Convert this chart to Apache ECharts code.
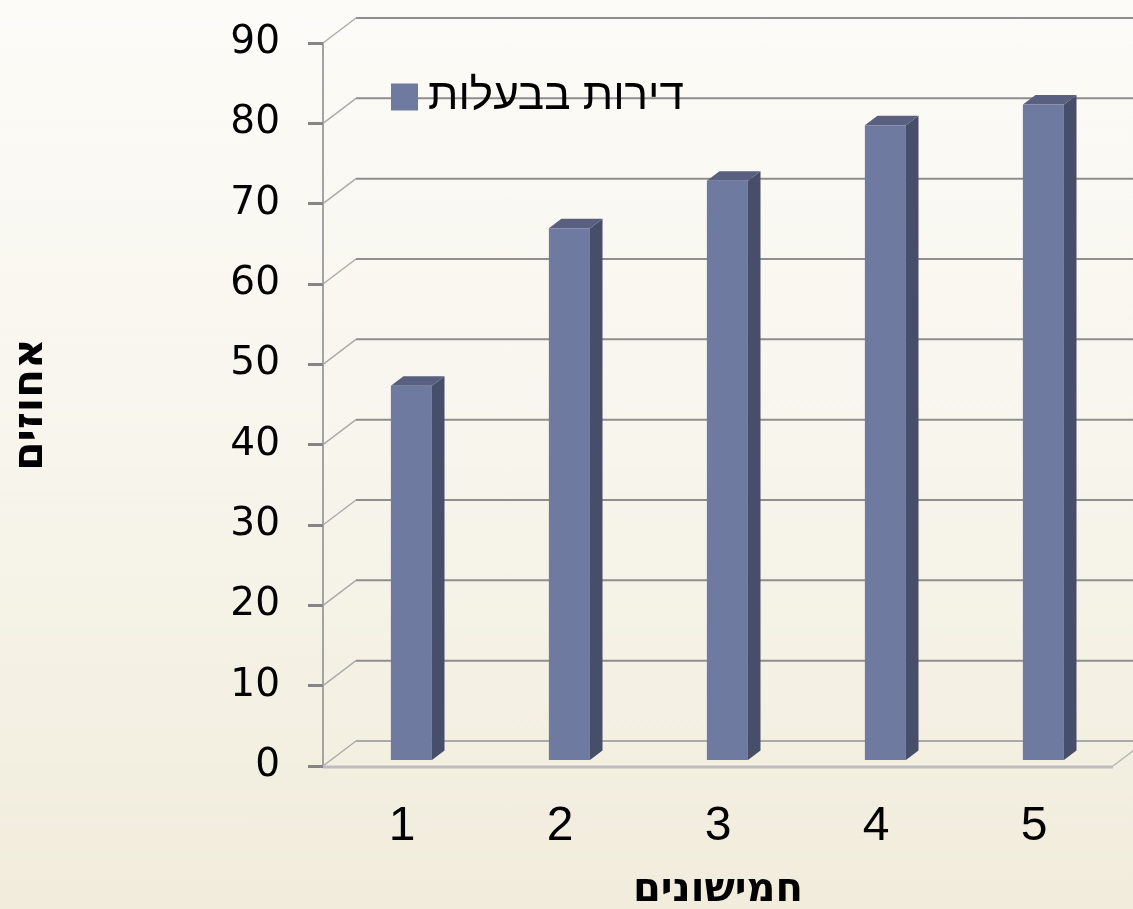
<!DOCTYPE html>
<html><head><meta charset="utf-8">
<script src="https://cdn.jsdelivr.net/npm/echarts@6/dist/echarts.min.js"></script>
<style>html,body{margin:0;padding:0;} #c{width:1133px;height:909px;background:linear-gradient(to bottom,#fcfbf7 0%,#f7f5ec 50%,#f1ecdb 100%);}</style>
</head><body><div id="c"></div>
<script>
const categories = ['1', '2', '3', '4', '5'];
const seriesName = 'דירות בבעלות';
const values = [46.6, 66.2, 72.1, 79.0, 81.6];
const yTicks = [0, 10, 20, 30, 40, 50, 60, 70, 80, 90];
const xTitle = 'חמישונים';
const yTitle = 'אחוזים';

const DX = 33, DY = -25;
const chart = echarts.init(document.getElementById('c'), null, {renderer: 'canvas'});

function renderGrid(params, api) {
  const v = api.value(1);
  const cs = params.coordSys;
  const y = api.coord([0, v])[1];
  const x0 = cs.x, x1 = cs.x + cs.width;
  const ch = [];
  ch.push({type: 'line', shape: {x1: x0, y1: y, x2: x0 + DX, y2: y + DY}, style: {stroke: '#ababab', lineWidth: 1.5}});
  ch.push({type: 'line', shape: {x1: x0 + DX, y1: y + DY, x2: x1 + DX, y2: y + DY}, style: {stroke: v === 0 ? '#aaaaaa' : '#8e8e8e', lineWidth: 2}});
  if (v === 0) {
    ch.push({type: 'line', shape: {x1: x0, y1: y + 1, x2: x1, y2: y + 1}, style: {stroke: '#bdbdbd', lineWidth: 3}});
    ch.push({type: 'line', shape: {x1: x1, y1: y, x2: x1 + DX, y2: y + DY}, style: {stroke: '#b5b5b5', lineWidth: 1.5}});
  }
  return {type: 'group', children: ch};
}

function renderBar(params, api) {
  const i = api.value(0), v = api.value(1);
  const base = api.coord([i, 0]);
  const top = api.coord([i, v]);
  const band = api.size([1, 0])[0];
  const w = band * 0.26;
  const d0 = 0.24, dd = 0.38;
  const cx = base[0] + d0 * DX + 1.5;
  const xl = cx - w / 2, xr = cx + w / 2;
  const yb = base[1] + d0 * DY, yt = top[1] + d0 * DY;
  const ox = dd * DX, oy = dd * DY;
  return {type: 'group', children: [
    {type: 'polygon', shape: {points: [[xr, yt], [xr + ox, yt + oy], [xr + ox, yb + oy], [xr, yb]]}, style: {fill: '#464e6a'}},
    {type: 'polygon', shape: {points: [[xl, yt], [xl + ox, yt + oy], [xr + ox, yt + oy], [xr, yt]]}, style: {fill: '#585f7f'}},
    {type: 'rect', shape: {x: xl, y: yt, width: w, height: yb - yt}, style: {fill: '#6f7aa0'}}
  ]};
}

chart.setOption({
  animation: false,
  backgroundColor: 'transparent',
  grid: {left: 323, right: 20, top: 43, bottom: 143, containLabel: false, outerBoundsMode: 'none'},
  legend: {
    show: true, left: 391, top: 75, padding: 0, itemWidth: 27, itemHeight: 27, icon: 'rect',
    data: [{name: seriesName, icon: 'rect'}],
    textStyle: {fontFamily: 'Liberation Sans', fontSize: 44, color: '#000', padding: [0, 0, 0, 5]}
  },
  xAxis: {
    type: 'category', data: categories, boundaryGap: true,
    axisLine: {show: false}, axisTick: {show: false}, splitLine: {show: false},
    axisLabel: {fontFamily: 'Liberation Sans', fontSize: 48, color: '#000', margin: 37},
    name: xTitle, nameLocation: 'middle', nameGap: 105,
    nameTextStyle: {fontFamily: 'DejaVu Sans', fontWeight: 'bold', fontSize: 40, color: '#000'}
  },
  yAxis: {
    type: 'value', min: 0, max: 90, interval: 10,
    axisLine: {show: true, lineStyle: {color: '#a3a3a3', width: 2}},
    axisTick: {show: true, inside: false, length: 15, lineStyle: {color: '#858585', width: 3}},
    splitLine: {show: false},
    axisLabel: {fontFamily: 'DejaVu Sans', fontSize: 39, color: '#000', margin: 43},
    name: yTitle, nameLocation: 'middle', nameRotate: 90, nameGap: 271,
    nameTextStyle: {fontFamily: 'DejaVu Sans', fontWeight: 'bold', fontSize: 42, color: '#000'}
  },
  series: [
    {
      type: 'custom', name: 'grid', z: 1, silent: true, renderItem: renderGrid,
      encode: {x: 0, y: 1},
      data: yTicks.map(function (t) { return [0, t]; })
    },
    {
      type: 'custom', name: seriesName, z: 2, renderItem: renderBar,
      itemStyle: {color: '#6f7aa0'},
      encode: {x: 0, y: 1},
      data: values.map(function (v, i) { return [i, v]; })
    }
  ]
});
</script>
</body></html>
